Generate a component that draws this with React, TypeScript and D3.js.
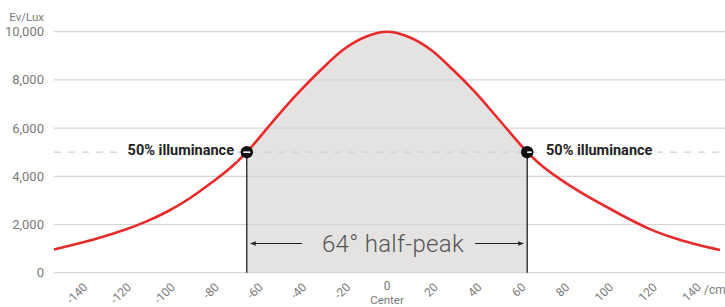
import React from 'react';
import * as d3 from 'd3';

// distance from the centre (cm) and illuminance (lux)
const positions = [-152, -140, -130, -120, -110, -100, -90, -80, -70, -64, -60, -50, -40, -30, -20, -10, 0,
  10, 20, 30, 40, 50, 60, 64, 70, 80, 90, 100, 110, 120, 130, 140, 152];
const lux = [960, 1230, 1480, 1770, 2120, 2550, 3090, 3740, 4470, 5000, 5420, 6500, 7510, 8430, 9250, 9780, 10000,
  9780, 9250, 8430, 7510, 6470, 5410, 5000, 4490, 3820, 3250, 2740, 2250, 1810, 1470, 1200, 942];

const yTicks = [0, 2000, 4000, 6000, 8000, 10000];
const xTicks = [-140, -120, -100, -80, -60, -40, -20, 0, 20, 40, 60, 80, 100, 120, 140];
const halfPeak = [-64, 64];
const halfValue = 5000;

const W = 725;
const H = 307;
const FONT = 'Roboto, "Open Sans", sans-serif';

const App: React.FC = () => {
  const x = d3.scaleLinear().domain([-152, 152]).range([54, 720]);
  const y = d3.scaleLinear().domain([0, 10000]).range([272.7, 31.7]);

  const pts = positions.map((p, i) => [p, lux[i]] as [number, number]);

  const line = d3
    .line<[number, number]>()
    .x((d) => x(d[0]))
    .y((d) => y(d[1]))
    .curve(d3.curveMonotoneX);

  const area = d3
    .area<[number, number]>()
    .x((d) => x(d[0]))
    .y0(y(0))
    .y1((d) => y(d[1]))
    .curve(d3.curveMonotoneX);

  const fmt = d3.format(',');
  const xl = x(halfPeak[0]);
  const xr = x(halfPeak[1]);
  const arrowY = 243.5;

  return (
    <svg width={W} height={H} style={{ position: 'absolute', left: 0, top: 0 }} fontFamily={FONT}>
      <defs>
        <clipPath id="halfClip">
          <rect x={xl} y={0} width={xr - xl} height={H} />
        </clipPath>
        <marker id="arrowL" viewBox="0 0 10 10" refX="1" refY="5" markerWidth="5" markerHeight="5" orient="auto">
          <path d="M10,1 L0,5 L10,9 Z" fill="#222" />
        </marker>
        <marker id="arrowR" viewBox="0 0 10 10" refX="9" refY="5" markerWidth="5" markerHeight="5" orient="auto">
          <path d="M0,1 L10,5 L0,9 Z" fill="#222" />
        </marker>
      </defs>

      {/* shaded half-peak region */}
      <path d={area(pts) ?? ''} fill="#e4e3e2" clipPath="url(#halfClip)" />

      {/* grid */}
      {yTicks.map((t) => (
        <g key={t}>
          <line x1={54} x2={W} y1={y(t)} y2={y(t)} stroke="#d6d6d6" strokeWidth={1.2} />
          <text x={44} y={y(t)} dy="0.35em" textAnchor="end" fontSize={13} fill="#7a7a7a">
            {fmt(t)}
          </text>
        </g>
      ))}
      <text x={44} y={17} dy="0.35em" textAnchor="end" fontSize={11.5} fill="#7a7a7a">
        Ev/Lux
      </text>

      {/* 50% dashed line */}
      <line x1={54} x2={W} y1={y(halfValue)} y2={y(halfValue)} stroke="#cfcfcf" strokeWidth={1.2} strokeDasharray="7,7" />

      {/* verticals at half peak */}
      {halfPeak.map((p) => (
        <line key={p} x1={x(p)} x2={x(p)} y1={y(halfValue)} y2={y(0)} stroke="#111" strokeWidth={1.2} />
      ))}

      {/* curve */}
      <path d={line(pts) ?? ''} fill="none" stroke="#e82a2a" strokeWidth={2.6} />

      {/* half-peak arrows */}
      <line x1={xl + 4} x2={302} y1={arrowY} y2={arrowY} stroke="#222" strokeWidth={1.1} markerStart="url(#arrowL)" />
      <line x1={475} x2={xr - 4} y1={arrowY} y2={arrowY} stroke="#222" strokeWidth={1.1} markerEnd="url(#arrowR)" />
      <text x={393} y={arrowY} dy="0.35em" textAnchor="middle" fontSize={24} fontWeight={300} fill="#555" letterSpacing={0.3}>
        64° half-peak
      </text>

      {/* labels */}
      <rect x={122} y={y(halfValue) - 9} width={115} height={18} fill="#fff" />
      <text x={234} y={y(halfValue) - 2} dy="0.35em" textAnchor="end" fontSize={14.5} fontWeight={700} fill="#222">
        50% illuminance
      </text>
      <rect x={543} y={y(halfValue) - 9} width={114} height={18} fill="#fff" />
      <text x={546} y={y(halfValue) - 2} dy="0.35em" textAnchor="start" fontSize={14.5} fontWeight={700} fill="#222">
        50% illuminance
      </text>

      {/* markers */}
      {halfPeak.map((p, i) => (
        <g key={p} transform={`translate(${x(p)},${y(halfValue)})`}>
          <circle r={6.2} fill="#111" />
          <line x1={i === 0 ? -3.5 : 0} x2={i === 0 ? 3.5 : 4.5} y1={0} y2={0} stroke="#fff" strokeWidth={1.6} />
        </g>
      ))}

      {/* x tick labels */}
      {xTicks.map((t) =>
        t === 0 ? (
          <g key={t}>
            <text x={x(0)} y={285.5} dy="0.35em" textAnchor="middle" fontSize={12} fill="#7a7a7a">
              0
            </text>
            <text x={x(0)} y={300} dy="0.35em" textAnchor="middle" fontSize={11.5} fill="#7a7a7a">
              Center
            </text>
          </g>
        ) : (
          <text
            key={t}
            transform={`translate(${x(t) + 5},${285}) rotate(-45)`}
            dy="0.35em"
            textAnchor="end"
            fontSize={12}
            fill="#7a7a7a"
          >
            {t}
          </text>
        )
      )}
      <text x={704} y={290} dy="0.35em" fontSize={12} fill="#7a7a7a">
        /cm
      </text>
    </svg>
  );
};

export default App;
